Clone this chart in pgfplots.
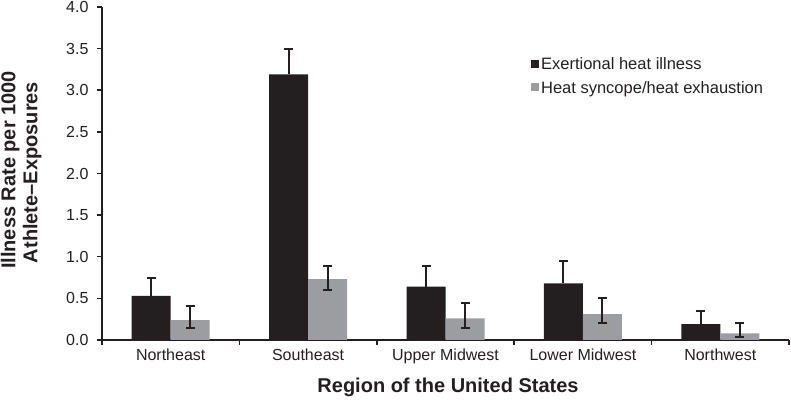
\documentclass[border=0pt]{standalone}
\usepackage{fontspec}
\setmainfont{Liberation Sans}
\usepackage{pgfplots}
\pgfplotsset{compat=1.18}
\definecolor{darkbar}{HTML}{231F20}
\definecolor{graybar}{HTML}{9C9DA0}
\begin{document}
\begin{tikzpicture}
\begin{axis}[
  name=ax,
  scale only axis,
  width=687pt, height=333pt,
  ybar=0pt, bar width=39pt,
  xmin=-0.5, xmax=4.5,
  ymin=0, ymax=4,
  ytick={0,0.5,...,4},
  yticklabel style={/pgf/number format/fixed, /pgf/number format/fixed zerofill, /pgf/number format/precision=1, xshift=-5pt},
  /pgf/number format/assume math mode=true,
  xtick={-0.5,0.5,1.5,2.5,3.5},
  xticklabels={Northeast,Southeast,Upper Midwest,Lower Midwest,Northwest},
  xticklabel style={xshift=68.7pt, yshift=0pt},
  extra x ticks={4.5},
  extra x tick labels={},
  extra x tick style={xticklabel style={xshift=-68.7pt}},
  tick align=outside,
  major tick length=5pt,
  tick style={draw=darkbar, line width=1.5pt},
  axis x line*=bottom, axis y line*=left,
  axis line style={draw=darkbar, line width=1.8pt, -},
  ticklabel style={font=\fontsize{16}{19}\selectfont, text=darkbar},
  xlabel={Region of the United States},
  xlabel style={at={(axis description cs:0.5,0)}, anchor=base, yshift=-53pt, xshift=2.5pt,
    font=\bfseries\fontsize{20}{24}\selectfont, text=darkbar},
  legend style={draw=none, fill=none, at={(0.62,0.86)}, anchor=north west,
    font=\fontsize{16.5}{19}\selectfont, text=darkbar, row sep=6pt},
  legend cell align=left,
  legend image code/.code={\fill[#1, draw=none] (0pt,-3pt) rectangle (8pt,5pt);},
  error bars/error bar style={draw=darkbar, line width=2pt},
  error bars/error mark options={draw=darkbar, rotate=90, mark size=4.5pt, line width=2pt},
]
\addplot[fill=darkbar, draw=none,
  error bars/.cd, y dir=plus, y explicit]
  coordinates {
    (0,0.53) += (0,0.22)
    (1,3.19) += (0,0.31)
    (2,0.64) += (0,0.25)
    (3,0.68) += (0,0.27)
    (4,0.19) += (0,0.16)
  };
\addlegendentry{Exertional heat illness}
\addplot[fill=graybar, draw=none,
  error bars/.cd, y dir=both, y explicit]
  coordinates {
    (0,0.24) += (0,0.17) -= (0,0.09)
    (1,0.73) += (0,0.16) -= (0,0.13)
    (2,0.26) += (0,0.19) -= (0,0.11)
    (3,0.31) += (0,0.19) -= (0,0.11)
    (4,0.08) += (0,0.13) -= (0,0.04)
  };
\addlegendentry{Heat syncope/heat exhaustion}
\end{axis}
\node[rotate=90, anchor=base, font=\bfseries\fontsize{20}{24}\selectfont, text=darkbar]
  at ([xshift=-86.5pt, yshift=3.5pt]ax.west) {Illness Rate per 1000};
\node[rotate=90, anchor=base, font=\bfseries\fontsize{20}{24}\selectfont, text=darkbar]
  at ([xshift=-64.5pt, yshift=1pt]ax.west) {Athlete--Exposures};
\pgfresetboundingbox
\path[use as bounding box] ([shift={(-102pt,-60pt)}]ax.south west) rectangle ([shift={(2pt,7pt)}]ax.north east);
\end{tikzpicture}
\end{document}
